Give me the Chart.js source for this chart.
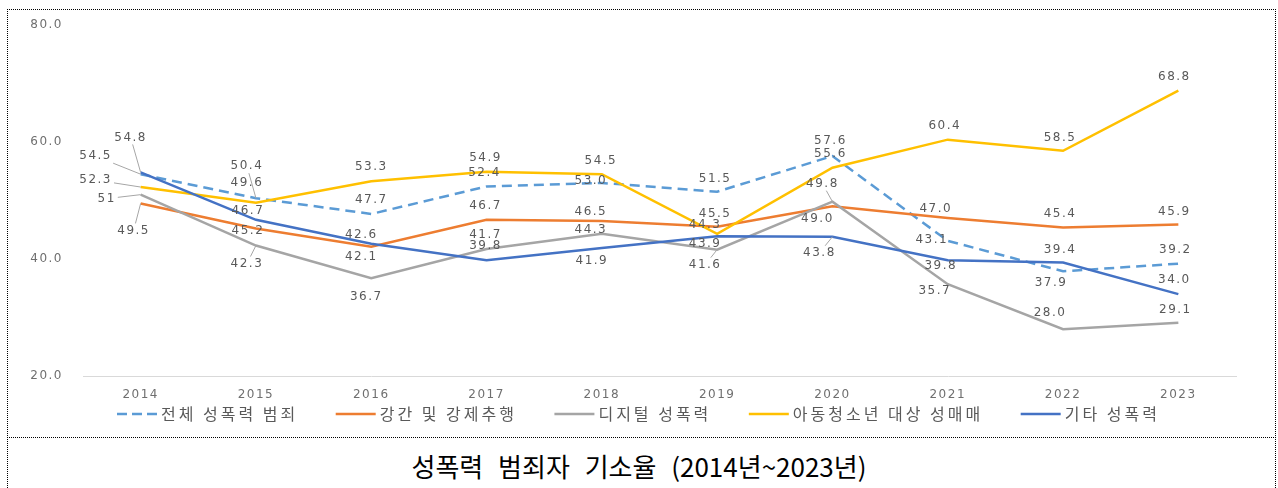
<!DOCTYPE html>
<html>
<head>
<meta charset="utf-8">
<script src="https://cdn.jsdelivr.net/npm/chart.js@4/dist/chart.umd.min.js"></script>
<style>
  body { margin: 0; background: #fff; width: 1278px; height: 488px; overflow: hidden; position: relative; }
  #frame { position: absolute; left: 7px; top: 9px; width: 1267px; height: 500px; border: 1px dotted #000; border-bottom: none; }
  #sep { position: absolute; left: 7px; top: 437px; width: 1269px; border-top: 1px dotted #000; }
  #caption { position: absolute; left: 0; top: 450px; width: 1278px; height: 32px; line-height: 32px; text-align: center;
    font-family: "Noto Sans CJK KR", sans-serif; font-size: 26px; word-spacing: 9px; color: #000; }
  #myChart { position: absolute; left: 0; top: 0; }
</style>
</head>
<body>
<div id="frame"></div>
<div id="sep"></div>
<div id="caption">성폭력 범죄자 기소율 (2014년~2023년)</div>
<canvas id="myChart" width="1278" height="437"></canvas>
<script>
const years = ['2014', '2015', '2016', '2017', '2018', '2019', '2020', '2021', '2022', '2023'];

const totalCrime = [54.5, 50.4, 47.7, 52.4, 53.0, 51.5, 57.6, 43.1, 37.9, 39.2];
const rapeAssault = [49.5, 45.2, 42.1, 46.7, 46.5, 45.5, 49.0, 47.0, 45.4, 45.9];
const digitalCrime = [51, 42.3, 36.7, 41.7, 44.3, 41.6, 49.8, 35.7, 28.0, 29.1];
const childProstitution = [52.3, 49.6, 53.3, 54.9, 54.5, 44.3, 55.6, 60.4, 58.5, 68.8];
const otherCrime = [54.8, 46.7, 42.6, 39.8, 41.9, 43.9, 43.8, 39.8, 39.4, 34.0];

const seriesNames = ['전체 성폭력 범죄', '강간 및 강제추행', '디지털 성폭력', '아동청소년 대상 성매매', '기타 성폭력'];
const yMin = 20;
const yMax = 80;
const yStep = 20;

// where each value label sits relative to its point (dx, dy in px)
const labelShift = [
  [[-45, -18], [-9, -32], [0, -14], [-2, -14], [-11, -2], [-2, -13], [-2, -15], [-16, -1], [-12, 12], [-3, -14]],
  [[-7, 27], [-8, 2], [-10, 10], [-1, -14], [-11, -9], [-2, -13], [-15, 13], [-12, -9], [-3, -14], [-4, -13]],
  [[-34, 4], [-9, 18], [-5, 19], [-1, -14], [-11, -4], [-12, 15], [-10, -18], [-13, 7], [-13, -16], [-3, -13]],
  [[-45, -7], [-9, -20], [0, -14], [-1, -14], [-1, -13], [-12, -9], [-2, -14], [-3, -14], [-3, -13], [-4, -14]],
  [[-10, -35], [-8, -9], [-10, -9], [-1, -14], [-10, 13], [-12, 8], [-13, 16], [-7, 6], [-3, -13], [-4, -14]],
];
// labels that get a thin leader line back to the point
const leaders = ['0-0', '0-1', '1-0', '2-0', '2-1', '2-5', '2-6', '3-0', '4-0', '4-6'];
const labelText = { '2-0': '51' };

const numFont = '12px "DejaVu Sans", sans-serif';

const spacing = {
  id: 'spacing',
  beforeUpdate(chart) { chart.ctx.letterSpacing = '1.5px'; },
  beforeDraw(chart) { chart.ctx.letterSpacing = '1.5px'; },
};

const valueLabels = {
  id: 'valueLabels',
  afterDatasetsDraw(chart) {
    const ctx = chart.ctx;
    ctx.save();
    ctx.letterSpacing = '1.5px';
    ctx.font = numFont;
    ctx.textAlign = 'center';
    ctx.textBaseline = 'middle';
    chart.data.datasets.forEach((ds, si) => {
      const meta = chart.getDatasetMeta(si);
      meta.data.forEach((pt, i) => {
        const key = si + '-' + i;
        const txt = labelText[key] || ds.data[i].toFixed(1);
        const [dx, dy] = labelShift[si][i];
        const lx = pt.x + dx;
        const ly = pt.y + dy;
        if (leaders.includes(key)) {
          const hw = ctx.measureText(txt).width / 2 + 2;
          const hh = 7;
          const vx = pt.x - lx;
          const vy = pt.y - ly;
          const t = Math.min(vx ? hw / Math.abs(vx) : Infinity, vy ? hh / Math.abs(vy) : Infinity);
          if (t < 1) {
            ctx.beginPath();
            ctx.strokeStyle = '#a6a6a6';
            ctx.lineWidth = 1;
            ctx.moveTo(lx + vx * t, ly + vy * t);
            ctx.lineTo(pt.x, pt.y);
            ctx.stroke();
          }
        }
        ctx.fillStyle = '#595959';
        ctx.fillText(txt, lx, ly);
      });
    });
    ctx.restore();
  },
};

const bottomLegend = {
  id: 'bottomLegend',
  afterDraw(chart) {
    const ctx = chart.ctx;
    ctx.save();
    ctx.font = '16px "Noto Sans CJK KR", sans-serif';
    ctx.letterSpacing = '3px';
    ctx.textBaseline = 'middle';
    ctx.textAlign = 'left';
    let x = 117;
    const y = 414;
    chart.data.datasets.forEach((ds) => {
      ctx.beginPath();
      ctx.strokeStyle = ds.borderColor;
      ctx.lineWidth = 2.5;
      ctx.setLineDash(ds.borderDash ? [10, 5] : []);
      ctx.moveTo(x, y);
      ctx.lineTo(x + 40, y);
      ctx.stroke();
      ctx.setLineDash([]);
      ctx.fillStyle = '#595959';
      ctx.fillText(ds.label, x + 44, y);
      x += 44 + ctx.measureText(ds.label).width + 37.5;
    });
    ctx.restore();
  },
};

const lineSet = (label, data, color, order, dash) => ({
  label,
  data,
  borderColor: color,
  backgroundColor: color,
  borderWidth: 2.5,
  borderDash: dash,
  pointRadius: 0,
  tension: 0,
  order,
});

const ctx = document.getElementById('myChart').getContext('2d');
const myChart = new Chart(ctx, {
  type: 'line',
  data: {
    labels: years,
    datasets: [
      lineSet(seriesNames[0], totalCrime, '#5b9bd5', 5, [10, 6]),
      lineSet(seriesNames[1], rapeAssault, '#ed7d31', 4),
      lineSet(seriesNames[2], digitalCrime, '#a5a5a5', 3),
      lineSet(seriesNames[3], childProstitution, '#ffc000', 2),
      lineSet(seriesNames[4], otherCrime, '#4472c4', 1),
    ],
  },
  options: {
    responsive: false,
    animation: false,
    devicePixelRatio: 1,
    layout: { padding: { left: 0, right: 42, top: 25, bottom: 37 } },
    plugins: {
      legend: { display: false },
      tooltip: { enabled: false },
    },
    scales: {
      x: {
        offset: true,
        grid: { display: false },
        border: { display: true, color: '#d9d9d9', width: 1 },
        ticks: { color: '#6f6f6f', font: { family: 'DejaVu Sans', size: 12 }, padding: 4, maxRotation: 0 },
        afterFit: (s) => { s.height = 24; },
      },
      y: {
        min: yMin,
        max: yMax,
        grid: { display: false },
        border: { display: false },
        ticks: {
          stepSize: yStep,
          color: '#6f6f6f',
          font: { family: 'DejaVu Sans', size: 12 },
          padding: 12,
          callback: (v) => Number(v).toFixed(1),
        },
        afterFit: (s) => { s.width = 83; },
      },
    },
  },
  plugins: [spacing, valueLabels, bottomLegend],
});
</script>
</body>
</html>
